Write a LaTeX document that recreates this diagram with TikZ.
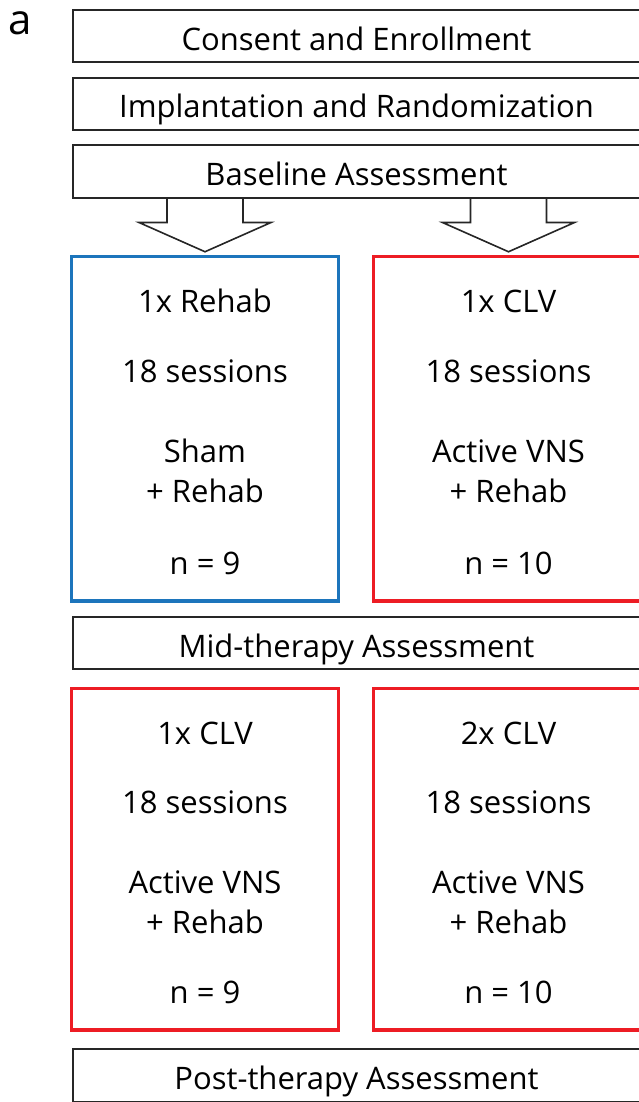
\documentclass[tikz,border=0pt]{standalone}
\usepackage{fontspec}
\setmainfont{Open Sans}
\usetikzlibrary{calc}

\definecolor{shamblue}{RGB}{28,117,188}
\definecolor{vnsred}{RGB}{237,28,36}

\tikzset{
  stagebox/.style={draw=black!85, line width=2pt, inner sep=0pt,
    minimum width=567pt, minimum height=52.5pt,
    text height=28pt, text depth=0pt,
    font=\fontsize{31}{40}\selectfont},
  groupbox/.style={draw=#1, line width=3.5pt, inner sep=0pt,
    minimum width=267pt, minimum height=344.5pt, align=center,
    font=\fontsize{31}{40}\selectfont},
  blockarrow/.style={draw=black!85, line width=1.6pt, line join=miter}
}

% hollow arrow from a stage box down into a group box
\newcommand{\splitarrow}[2]{%
  \draw[blockarrow] ($(#1.south -| #2.north)+(-38,0)$) -- ($(#1.south -| #2.north)+(-38,24)$)
    -- ($(#1.south -| #2.north)+(-66,24)$) -- ($(#2.north)+(0,-3)$)
    -- ($(#1.south -| #2.north)+(66,24)$) -- ($(#1.south -| #2.north)+(38,24)$)
    -- ($(#1.south -| #2.north)+(38,0)$);}
\newcommand{\toprow}{\rule{0pt}{30pt}}

\begin{document}
\begin{tikzpicture}[x=1pt,y=-1pt]
\useasboundingbox[fill=white] (0,0) rectangle (638,1102);

\node[font=\fontsize{42}{48}\selectfont] (panel) at (20,23) {a};

% assessments
\node[stagebox] (consent) at (356.5,36.25) {Consent and Enrollment};
\node[stagebox, minimum height=52pt] (implant) at (356.5,104) {Implantation and Randomization};
\node[stagebox] (baseline) at (356.5,171.25) {Baseline Assessment};

% first block
\node[groupbox=shamblue] (sham) at (205,428.75)
  {\toprow 1x Rehab\\[30pt] 18 sessions\\[40pt] Sham\\ + Rehab\\[32pt] n = 9};
\node[groupbox=vnsred, minimum width=270pt] (clvone) at (508.5,428.75)
  {\toprow 1x CLV\\[30pt] 18 sessions\\[40pt] Active VNS\\ + Rehab\\[32pt] n = 10};

\splitarrow{baseline}{sham}
\splitarrow{baseline}{clvone}

\node[stagebox, minimum height=52pt] (mid) at (356.5,643) {Mid-therapy Assessment};

% second block
\node[groupbox=vnsred, minimum height=341.5pt] (clvlow) at (205,859.25)
  {\toprow 1x CLV\\[29pt] 18 sessions\\[40pt] Active VNS\\ + Rehab\\[30pt] n = 9};
\node[groupbox=vnsred, minimum height=341.5pt, minimum width=270pt] (clvtwo) at (508.5,859.25)
  {\toprow 2x CLV\\[29pt] 18 sessions\\[40pt] Active VNS\\ + Rehab\\[30pt] n = 10};

\node[stagebox] (post) at (356.5,1075.25) {Post-therapy Assessment};
\end{tikzpicture}
\end{document}
